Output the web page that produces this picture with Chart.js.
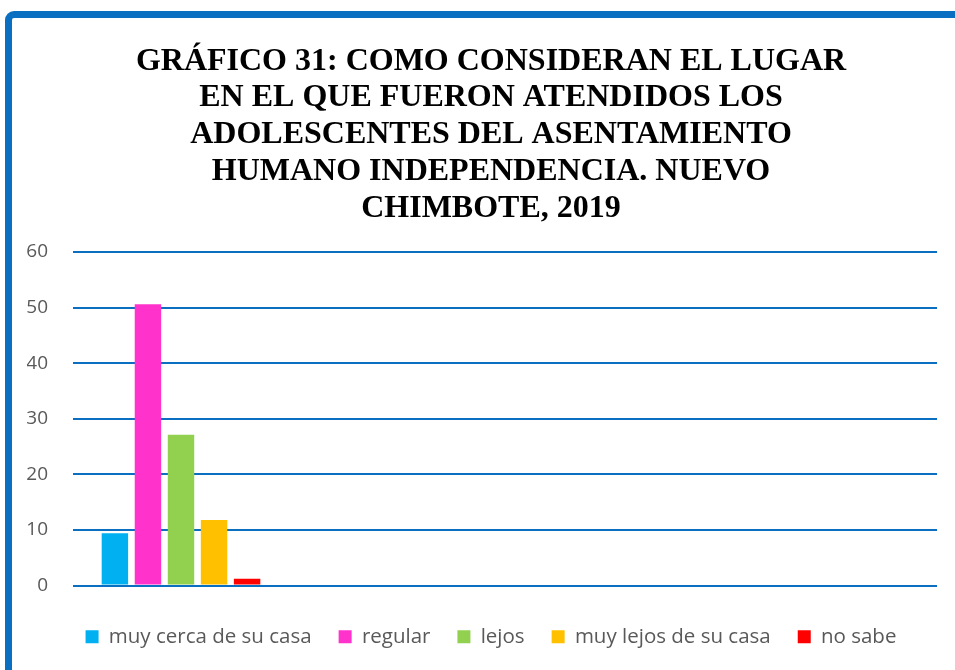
<!DOCTYPE html>
<html>
<head>
<meta charset="utf-8">
<script src="https://cdn.jsdelivr.net/npm/chart.js@4.4.0/dist/chart.umd.min.js"></script>
<style>
  html, body { margin: 0; padding: 0; background: #fff; overflow: hidden; }
  #frame {
    position: absolute; left: 5px; top: 11px; width: 980px; height: 700px;
    border: 7px solid #0A6FC0; border-radius: 9px; box-sizing: border-box;
  }
  #wrap { position: absolute; left: 24px; top: 30px; width: 931px; height: 640px; }
</style>
</head>
<body>
<div id="frame"></div>
<div id="wrap"><canvas id="grafico"></canvas></div>
<script>
'use strict';

// four slots on the x axis, only the first one carries data
var slots = ['', '', '', ''];
var seriesNames = ['muy cerca de su casa', 'regular', 'lejos', 'muy lejos de su casa', 'no sabe'];
var seriesValues = [9.4, 50.6, 27.1, 11.8, 1.2];
var seriesColors = ['#00B0F0', '#FF33CC', '#92D050', '#FFC000', '#FF0000'];
var yTicks = [0, 10, 20, 30, 40, 50, 60];
var titleLines = [
  'GRÁFICO 31: COMO CONSIDERAN EL LUGAR',
  'EN EL QUE FUERON ATENDIDOS LOS',
  'ADOLESCENTES DEL ASENTAMIENTO',
  'HUMANO INDEPENDENCIA. NUEVO',
  'CHIMBOTE, 2019'
];

var datasets = seriesNames.map(function (name, i) {
  var row = slots.map(function () { return null; });
  row[0] = seriesValues[i];
  return {
    label: name,
    data: row,
    backgroundColor: seriesColors[i],
    borderWidth: 0,
    barPercentage: 0.8,
    categoryPercentage: 0.765
  };
});

var grafico = new Chart('grafico', {
  type: 'bar',
  data: { labels: slots, datasets: datasets },
  options: {
    responsive: true,
    maintainAspectRatio: false,
    animation: false,
    layout: { padding: { left: 3, right: 0, bottom: 13 } },
    plugins: {
      tooltip: { enabled: false },
      title: {
        display: true,
        text: titleLines,
        color: '#000',
        font: { family: '"Liberation Serif", "Times New Roman", serif', size: 32, weight: 'bold', lineHeight: 1.15 },
        padding: { top: 13, bottom: 25 }
      },
      legend: {
        position: 'bottom',
        labels: {
          boxWidth: 13,
          boxHeight: 13,
          padding: 27,
          color: '#595959',
          font: { family: '"Open Sans", sans-serif', size: 20.5 }
        }
      }
    },
    scales: {
      x: {
        grid: { display: false },
        border: { display: false },
        ticks: { display: false },
        afterFit: function (axis) { axis.height = 14; }
      },
      y: {
        min: 0,
        max: 60,
        afterBuildTicks: function (axis) {
          axis.ticks = yTicks.map(function (v) { return { value: v }; });
        },
        afterFit: function (axis) { axis.width = 46; },
        grid: { color: '#0A6FC0', lineWidth: 2, drawTicks: false },
        border: { display: false },
        ticks: {
          padding: 25,
          color: '#595959',
          font: { family: '"Open Sans", sans-serif', size: 19 }
        }
      },
      // empty right-hand strip so the gridlines stop short of the frame edge
      y2: {
        position: 'right',
        display: true,
        grid: { display: false },
        border: { display: false },
        ticks: { display: false },
        afterFit: function (axis) { axis.width = 18; }
      }
    }
  }
});
</script>
</body>
</html>
